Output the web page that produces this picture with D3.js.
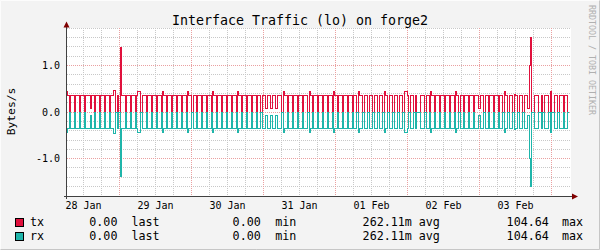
<!DOCTYPE html>
<html><head><meta charset="utf-8">
<script src="https://cdn.jsdelivr.net/npm/d3@7"></script>
<style>html,body{margin:0;padding:0;background:#f3f3f3}svg{display:block}</style>
</head><body>
<svg id="c" width="600" height="250"></svg>
<script>
// ---------- data (hours since 28 Jan 00:00) ----------
const title = "Interface Traffic (lo) on forge2";
const yLabel = "Bytes/s";
const watermark = "RRDTOOL / TOBI OETIKER";
const xLabels = ["28 Jan","29 Jan","30 Jan","31 Jan","01 Feb","02 Feb","03 Feb"];
const xLabelHours = [12,36,60,84,108,132,156];
const yTickValues = [-1,0,1];
const yTickLabels = ["-1.0","0.0","1.0"];
const seriesNames = ["tx","rx"];
const legendLast = ["0.00","0.00"];
const legendMin = ["0.00","0.00"];
const legendAvg = ["262.11m","262.11m"];
const legendMax = ["104.64","104.64"];
const timeStart = 6.5, timeEnd = 173.67;
const baseLevel = 0.355;
// dips of the line down to zero
const dips = [7.67,9.33,11.0,12.67,16.0,17.67,19.33,21.0,23.27,24.2,
  26.33,28.0,29.67,31.5,33.33,35.0,36.67,38.33,40.0,41.67,43.33,45.0,46.67,48.5,50.0,51.67,53.33,55.0,
  56.67,58.33,60.0,61.67,63.33,65.0,66.67,68.33,70.0,71.5,78.5,
  80.33,82.0,83.67,85.33,87.17,88.67,90.33,92.0,93.67,95.33,97.0,98.67,100.33,102.0,103.5,
  105.57,107.23,108.9,110.57,112.23,113.9,115.57,117.23,118.9,120.83,122.5,
  126.1,127.67,129.33,131.0,132.67,134.33,136.0,137.5,139.0,140.67,142.33,
  145.9,147.33,149.0,150.67,152.1,153.77,155.43,157.1,158.77];
// shallow dips [hour, value]
const lowDips = [[14.67,0.07],[73.27,0.08],[74.83,0.08],[76.5,0.08],[144.23,0.07]];
// raised segments / wide dips [start, end, value]
const peaks = [[6.5,6.83,0.43],[22.0,22.83,0.46],[24.45,24.8,1.38],[30.33,31.1,0.43],
  [38.58,38.9,0.43],[46.92,47.25,0.43],[55.25,55.58,0.43],[63.58,63.9,0.43],[78.75,79.08,0.43],
  [87.42,87.75,0.43],[95.58,95.9,0.43],[103.75,104.08,0.43],[112.48,112.8,0.43],
  [119.2,120.3,0.43],[123.33,124.5,0],[127.92,128.25,0.43],[136.25,136.58,0.43],
  [152.35,152.68,0.43],[155.68,156.0,0.38]];
// final part of the series as explicit steps [hour, value]
const tailSteps = [[160.05,0.08],[160.77,1.0],[161.07,1.6],[161.4,0],[162.43,0.355],[163.77,0],
  [164.67,0.355],[165.23,0],[165.67,0.355],[167.1,0],[167.77,0.43],[168.1,0],[169.0,0.355],
  [170.23,0],[170.77,0.355],[172.1,0],[172.43,0.355],[173.43,0]];

// ---------- chart ----------
const svg = d3.select("#c");
const W = 600, H = 250;
const x = d3.scaleLinear().domain([6.5, 174.5]).range([66.5, 570.5]);
const y = d3.scaleLinear().domain([-1.8, 1.8]).range([196.5, 28.5]);
const sx = v => Math.floor(x(v)) + 0.5;
const sy = v => Math.floor(y(v) - 0.5) + 0.5;
const FONT = "'DejaVu Sans Mono', monospace";
const colors = ["#e0103c", "#1fb5aa"];

svg.append("rect").attr("width", W).attr("height", H).attr("fill", "#f3f3f3");
// frame
svg.append("path").attr("d", "M0.5,249.5V0.5H599.5").attr("fill","none").attr("stroke","#fcfcfc");
svg.append("path").attr("d", "M0.5,249.5H599.5V0.5").attr("fill","none").attr("stroke","#c6c6c6");
// canvas
svg.append("rect").attr("x", 67).attr("y", 28).attr("width", 504).attr("height", 168).attr("fill", "#fff");

const grid = svg.append("g").attr("fill","none").attr("stroke-dasharray","1,1");
const minorX = d3.range(12, 172, 6).filter(h => h % 24 !== 0);
const majorX = d3.range(24, 172, 24);
const minorY = d3.range(-18, 19, 2).map(v => v/10).filter(v => Math.abs(v - Math.round(v)) > 1e-6);
grid.selectAll(".mx").data(minorX).join("line")
  .attr("x1", d => sx(d)).attr("x2", d => sx(d)).attr("y1", 28).attr("y2", 196)
  .attr("stroke", "#c8c8c8");
grid.selectAll(".my").data(minorY).join("line")
  .attr("y1", d => sy(d)).attr("y2", d => sy(d)).attr("x1", 67).attr("x2", 571)
  .attr("stroke", "#c8c8c8");
grid.selectAll(".Mx").data(majorX).join("line")
  .attr("x1", d => sx(d)).attr("x2", d => sx(d)).attr("y1", 28).attr("y2", 196)
  .attr("stroke", "#eaa0a0");
grid.selectAll(".My").data(yTickValues).join("line")
  .attr("y1", d => sy(d)).attr("y2", d => sy(d)).attr("x1", 67).attr("x2", 571)
  .attr("stroke", "#eaa0a0");

// series
function buildSteps() {
  const ov = [];
  dips.forEach(c => ov.push([c - 0.3, c + 0.3, 0]));
  lowDips.forEach(([c, v]) => ov.push([c - 0.28, c + 0.28, v]));
  peaks.forEach(p => ov.push(p));
  ov.sort((a, b) => a[0] - b[0]);
  const tailStart = tailSteps[0][0];
  const pts = [[timeStart, baseLevel]];
  for (const [a, b, v] of ov) {
    if (a >= tailStart) break;
    pts.push([a, v]); pts.push([b, baseLevel]);
  }
  tailSteps.forEach(s => pts.push(s));
  pts.push([timeEnd, pts[pts.length - 1][1]]);
  return pts;
}
const steps = buildSteps();
[1, -1].forEach((sign, i) => {
  const line = d3.line().x(d => sx(d[0])).y(d => sy(sign * d[1])).curve(d3.curveStepAfter);
  svg.append("path").attr("d", line(steps)).attr("fill", "none")
    .attr("stroke", colors[i]).attr("stroke-width", 1).attr("shape-rendering", "crispEdges");
});

// axes
const axisColor = "#404040";
svg.append("line").attr("x1", 66.5).attr("x2", 66.5).attr("y1", 199).attr("y2", 26).attr("stroke", axisColor);
svg.append("line").attr("x1", 64).attr("x2", 573).attr("y1", 196.5).attr("y2", 196.5).attr("stroke", axisColor);
svg.append("path").attr("d", "M63.5,27.5L66.5,21.5L69.5,27.5Z").attr("fill", "#800000");
svg.append("path").attr("d", "M572,193.5L578,196.5L572,199.5Z").attr("fill", "#800000");

// tick labels
svg.selectAll(".yl").data(yTickValues).join("text")
  .attr("x", 60).attr("y", (d) => sy(d) + 3.8).attr("text-anchor", "end")
  .attr("font-family", FONT).attr("font-size", 10).attr("fill", "#000")
  .text((d, i) => yTickLabels[i]);
svg.selectAll(".xl").data(xLabelHours).join("text")
  .attr("x", d => x(d) + 0.5).attr("y", 209.3).attr("text-anchor", "middle")
  .attr("font-family", FONT).attr("font-size", 10).attr("fill", "#000")
  .text((d, i) => xLabels[i]);

// title, unit, watermark
svg.append("text").attr("x", 300).attr("y", 24.5).attr("text-anchor", "middle")
  .attr("font-family", FONT).attr("font-size", 13.3).text(title);
svg.append("text").attr("transform", "translate(15,111.5) rotate(-90)").attr("text-anchor", "middle")
  .attr("font-family", FONT).attr("font-size", 11.3).text(yLabel);
svg.append("text").attr("transform", "translate(588.5,5) rotate(90)").attr("text-anchor", "start")
  .attr("font-family", FONT).attr("font-size", 8.3).attr("fill", "#b0b0b0").text(watermark);

// legend
seriesNames.forEach((name, i) => {
  const by = 217.5 + i * 14.3;
  const base = 225.6 + i * 14.3;
  svg.append("rect").attr("x", 15.5).attr("y", Math.round(by) + 0.5).attr("width", 8).attr("height", 8)
    .attr("fill", colors[i]).attr("stroke", "#000");
  const toks = [[30, name], [89.3, legendLast[i]], [131.5, "last"], [232.6, legendMin[i]], [275.3, "min"],
    [362.6, legendAvg[i]], [418.8, "avg"], [506.6, legendMax[i]], [562, "max"]];
  toks.forEach(([tx, s]) => svg.append("text").attr("x", tx).attr("y", base)
    .attr("font-family", FONT).attr("font-size", 11.7).attr("fill", "#000").text(s));
});
</script>
</body></html>
